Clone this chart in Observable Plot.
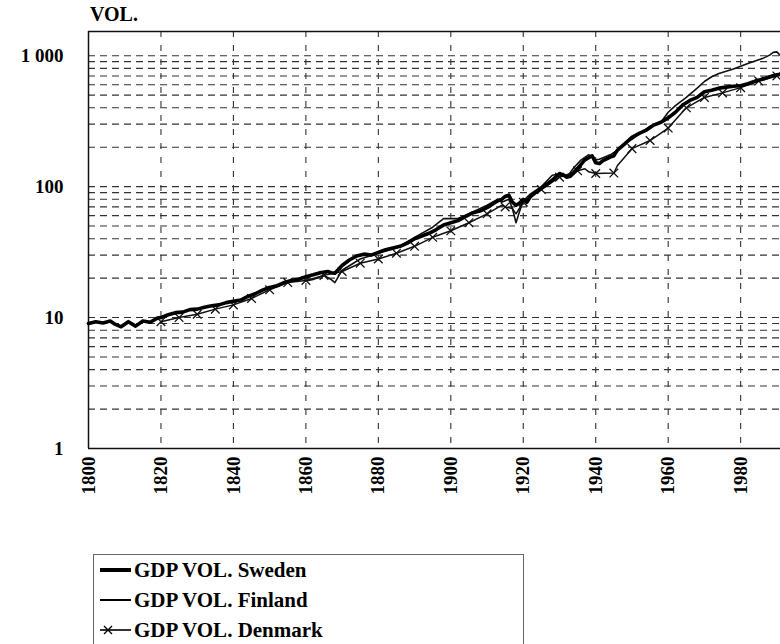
<!DOCTYPE html>
<html>
<head>
<meta charset="utf-8">
<script src="https://cdn.jsdelivr.net/npm/d3@7"></script>
<script src="https://cdn.jsdelivr.net/npm/@observablehq/plot@0.6"></script>
<style>
  body { margin: 0; background: #fff; color: #000;
         font-family: "Liberation Serif", "Times New Roman", serif; font-weight: bold; }
  #title { position: relative; height: 29px; }
  #title span { position: absolute; left: 90px; top: 3px; font-size: 20px; }
  #chart svg { display: block; }
  #legend { margin-left: 93px; margin-top: 48px; width: 431px; height: 100px;
            border: 1px solid #666; box-sizing: border-box; }
  .row { height: 30px; line-height: 30px; font-size: 21px; white-space: nowrap; }
  .row svg { vertical-align: middle; margin-left: 6px; margin-right: 2px; position: relative; top: -2px; }
</style>
</head>
<body>
<div id="title"><span>VOL.</span></div>
<div id="chart"></div>
<div id="legend"></div>
<script>
// ---- data ----
const swedenYears = [1800,1802,1804,1806,1807,1809,1811,1813,1815,1817,1819,1820,1822,1824,1826,1828,1830,1832,1834,1836,1838,1840,1842,1844,1846,1848,1850,1852,1854,1856,1858,1860,1862,1864,1866,1867,1868,1870,1872,1874,1876,1878,1880,1882,1884,1886,1888,1890,1892,1894,1896,1898,1900,1902,1904,1906,1908,1910,1912,1913,1914,1915,1916,1917,1918,1919,1920,1921,1922,1924,1926,1928,1930,1931,1932,1933,1935,1937,1939,1940,1941,1942,1944,1945,1946,1948,1950,1952,1954,1956,1958,1960,1962,1964,1966,1968,1970,1972,1974,1976,1978,1980,1982,1984,1986,1988,1990,1991];
const swedenValues = [9.0,9.3,9.1,9.4,9.0,8.5,9.3,8.6,9.4,9.2,9.9,10.0,10.5,10.9,11.0,11.5,11.6,12.0,12.3,12.5,13.0,13.3,13.6,14.5,15.2,16.2,17.0,17.5,18.5,19.2,19.6,20.5,21.2,22.0,22.5,22.0,21.8,25.0,27.5,29.5,30.5,30.0,31.5,33.0,34.0,35.0,37.0,40.0,42.0,44.0,47.0,51.0,53.0,55.0,59.0,63.0,65.0,69.0,75.0,78.0,80,84,86,76,72,75,80,76,84,93,102,112,126,123,118,120,138,160,172,152,150,158,168,172,190,212,238,255,270,295,310,335,370,420,455,480,530,545,565,575,585,590,610,640,660,690,714,720];

const finlandYears = [1860,1862,1865,1867,1868,1870,1875,1880,1885,1890,1895,1898,1900,1902,1905,1910,1913,1914,1916,1917,1918,1919,1920,1922,1925,1928,1930,1932,1934,1936,1938,1939,1940,1941,1944,1946,1948,1950,1955,1958,1960,1962,1965,1968,1970,1972,1974,1976,1978,1980,1982,1984,1986,1988,1989,1990,1991];
const finlandValues = [19,19.5,21,19.5,18.5,23,28,31,34,41,49,57,57,57,62,72,80,76,80,68,53,65,78,88,100,122,125,118,140,160,175,170,160,162,175,190,215,230,290,310,370,415,480,565,635,690,730,760,790,830,870,910,950,1010,1060,1070,1000];

const denmarkYears = [1820,1825,1830,1835,1840,1845,1850,1855,1860,1865,1870,1875,1880,1885,1890,1895,1900,1905,1910,1914,1915,1917,1918,1920,1925,1930,1935,1937,1938,1940,1945,1946,1950,1955,1960,1965,1970,1975,1980,1985,1990];
const denmarkValues = [9.3,10.0,10.6,11.6,12.5,14.0,16.3,18.5,19.2,21.0,22.5,26.0,28.0,31.0,35.0,41.0,46.0,53.0,62.0,72,70,68,62,76,95,118,132,137,130,126,127,145,195,225,280,400,480,520,570,640,700];

const xTicks = [1800,1820,1840,1860,1880,1900,1920,1940,1960,1980];
const yTickLabels = [1,10,100,1000];
const yGrid = [2,3,4,5,6,7,8,9,10,20,30,40,50,60,70,80,90,100,200,300,400,500,600,700,800,900,1000];
const seriesNames = ["GDP VOL. Sweden","GDP VOL. Finland","GDP VOL. Denmark"];

// ---- tables built from the arrays ----
const sweden = swedenYears.map((y,i) => ({year:y, value:swedenValues[i]}));
const finland = finlandYears.map((y,i) => ({year:y, value:finlandValues[i]}));
const denmark = denmarkYears.map((y,i) => ({year:y, value:denmarkValues[i]}));
const denmarkMarks = denmark.filter(d => d.year % 5 === 0);

const yTop = 1530;

const chart = Plot.plot({
  width: 780,
  height: 477,
  marginLeft: 88,
  marginRight: 0,
  marginTop: 2,
  marginBottom: 58,
  style: {fontFamily: "Liberation Serif, Times New Roman, serif", fontSize: "19px", fontWeight: "bold", color: "#000", background: "#fff"},
  x: {domain: [1800, 1991], ticks: xTicks, tickFormat: d => String(d), tickRotate: -90, tickSize: 0, tickPadding: 8, label: null},
  y: {type: "log", domain: [1, yTop], ticks: yTickLabels, tickFormat: d => d === 1000 ? "1 000" : String(d), tickSize: 0, tickPadding: 25, label: null},
  marks: [
    Plot.ruleY(yGrid, {stroke: "#333", strokeWidth: 1.1, strokeDasharray: "7,5"}),
    Plot.ruleX(xTicks.slice(1), {stroke: "#333", strokeWidth: 1.1, strokeDasharray: "6,8"}),
    Plot.ruleY([1, yTop], {stroke: "#111", strokeWidth: 1.5}),
    Plot.ruleX([1800], {stroke: "#111", strokeWidth: 1.5}),
    Plot.line(finland, {x: "year", y: "value", stroke: "#111", strokeWidth: 1.6}),
    Plot.line(denmark, {x: "year", y: "value", stroke: "#111", strokeWidth: 1.5}),
    Plot.dot(denmarkMarks, {x: "year", y: "value", symbol: "times", r: 4, stroke: "#111", strokeWidth: 1.3}),
    Plot.line(sweden, {x: "year", y: "value", stroke: "#000", strokeWidth: 3.6})
  ]
});
document.getElementById("chart").appendChild(chart);

// ---- legend ----
const legend = d3.select("#legend");
const widths = [4, 2, 1.6];
seriesNames.forEach((name, i) => {
  const row = legend.append("div").attr("class", "row");
  const s = row.append("svg").attr("width", 32).attr("height", 14);
  s.append("line").attr("x1", 0).attr("x2", 31).attr("y1", 7).attr("y2", 7)
    .attr("stroke", "#000").attr("stroke-width", widths[i]);
  if (i === 2) {
    s.append("path").attr("d", "M4,3L12,11M4,11L12,3").attr("stroke", "#000").attr("stroke-width", 1.3);
  }
  row.append("span").text(name);
});
</script>
</body>
</html>
